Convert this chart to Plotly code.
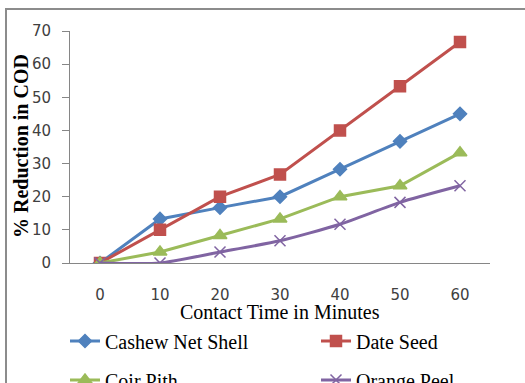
import plotly.graph_objects as go

contact_time = ["0", "10", "20", "30", "40", "50", "60"]
cashew_net_shell = [0, 13.3, 16.7, 20.0, 28.3, 36.7, 45.0]
date_seed = [0, 10.0, 20.0, 26.7, 40.0, 53.3, 66.7]
coir_pith = [0, 3.3, 8.3, 13.3, 20.0, 23.3, 33.3]
orange_peel = [0, 0, 3.3, 6.7, 11.7, 18.3, 23.3]

W, H = 525, 383
L, R, T, B = 70, 35, 31, 120
pw, ph = W - L - R, H - T - B

def px(x):
    return (x - L) / pw

def py(y):
    return (H - B - y) / ph

serif = "Liberation Serif, Times New Roman, serif"
sans = "DejaVu Sans, sans-serif"

# name, values, colour, marker, size, legend id, legend position (px), line shape
series = [
    ("Cashew Net Shell", cashew_net_shell, "#4F81BD", "diamond", 10, "legend", (65, 341), "linear"),
    ("Date Seed", date_seed, "#C0504D", "square", 11, "legend2", (316, 341), "linear"),
    ("Coir Pith", coir_pith, "#9BBB59", "triangle-up", 12, "legend3", (65, 380), "linear"),
    ("Orange Peel", orange_peel, "#8064A2", "x-thin-open", 11, "legend4", (316, 380), "spline"),
]

fig = go.Figure()
legends = {}
for name, vals, color, sym, size, leg, (lx, ly), shape in series:
    fig.add_trace(go.Scatter(
        x=contact_time, y=vals, name=name, mode="lines+markers",
        line=dict(color=color, width=3, shape=shape, smoothing=0.6),
        marker=dict(symbol=sym, size=size, color=color,
                    line=dict(color=color, width=1.5)),
        legend=leg,
    ))
    legends[leg] = dict(
        x=px(lx), y=py(ly), xanchor="left", yanchor="middle",
        orientation="h", itemwidth=30,
        font=dict(family=serif, size=20, color="#000000"),
        bgcolor="rgba(0,0,0,0)",
    )

fig.update_layout(
    width=W, height=H,
    font=dict(family=serif, size=20, color="#000000"),
    margin=dict(l=L, r=R, t=T, b=B, autoexpand=False),
    paper_bgcolor="white", plot_bgcolor="white",
    showlegend=True,
    **legends,
    xaxis=dict(
        type="category", range=[-0.5, 6.5],
        showline=True, linecolor="#868686", linewidth=1,
        ticks="", showgrid=False, zeroline=False,
        tickfont=dict(family=sans, size=15, color="#404040"),
        ticklabelstandoff=18,
    ),
    yaxis=dict(
        range=[0, 70], dtick=10,
        showline=True, linecolor="#868686", linewidth=1,
        ticks="outside", ticklen=7, tickcolor="#868686",
        showgrid=False, zeroline=False,
        tickfont=dict(family=sans, size=15, color="#404040"),
        ticklabelstandoff=8,
    ),
    annotations=[
        dict(text="Contact Time in Minutes", x=px(280), y=py(312),
             xref="paper", yref="paper", showarrow=False,
             xanchor="center", yanchor="middle",
             font=dict(family=serif, size=20, color="#000000")),
        dict(text="<b>% Reduction in COD</b>", x=px(21), y=py(146),
             xref="paper", yref="paper", showarrow=False, textangle=-90,
             xanchor="center", yanchor="middle",
             font=dict(family=serif, size=20, color="#000000")),
    ],
    shapes=[
        dict(type="rect", xref="paper", yref="paper",
             x0=px(6), y0=py(420), x1=px(560), y1=py(9),
             line=dict(color="#8C8C8C", width=2), layer="below"),
    ],
)

fig.write_html("out.html")
